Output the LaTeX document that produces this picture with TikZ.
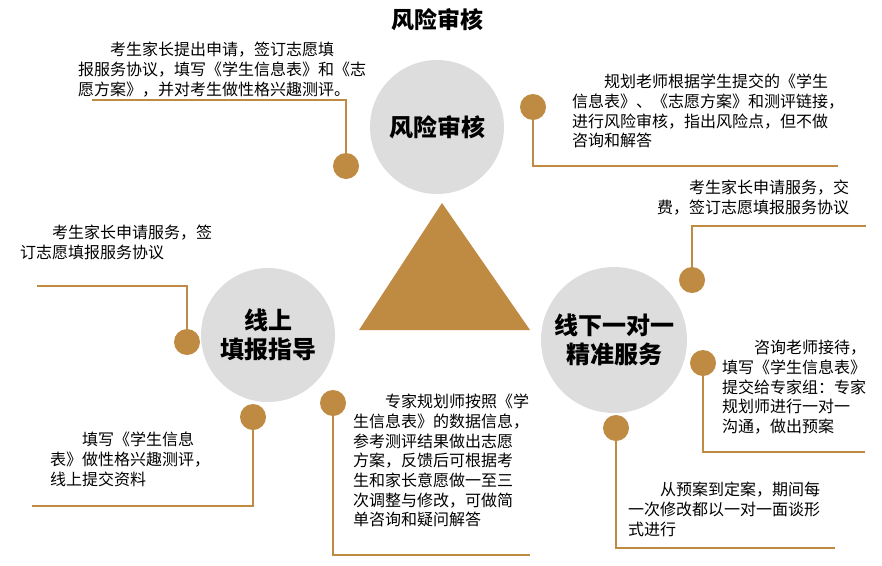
\documentclass[tikz,border=0pt]{standalone}
\usepackage{fontspec}
\setmainfont{Noto Sans CJK SC}
\usetikzlibrary{positioning}
\definecolor{gold}{HTML}{BF8A42}
\definecolor{disc}{HTML}{DDDDDD}
\tikzset{
  stage/.style={circle, fill=disc, minimum size=134pt, inner sep=0pt, align=center,
                font=\fontsize{24}{29}\selectfont\bfseries},
  dot/.style={circle, fill=gold, minimum size=26pt, inner sep=0pt},
  lnk/.style={draw=gold, line width=1.8pt},
  note/.style={anchor=north west, align=left, inner sep=0pt,
               font=\fontsize{16}{19.7}\selectfont},
}

\begin{document}
\begin{tikzpicture}[x=1pt, y=-1pt]
  \useasboundingbox (0,0) rectangle (882,565);
  \node[font=\fontsize{23}{27}\selectfont\bfseries] (title) at (437,20) {风险审核};
  % three stages and the centre triangle
  \node[stage] (risk) at (437,127) {风险审核};
  \node[stage] (online) at (268,335) {线上\\填报指导};
  \node[stage, minimum size=146pt] (offline) at (614,340) {线下一对一\\精准服务};
  \path[fill=gold] (442,203) coordinate (tri) -- (359,330) -- (530,330) -- cycle;
  % dots
  \node[dot] (da) at (346,166) {};
  \node[dot] (db) at (533,107) {};
  \node[dot] (dc) at (692,280) {};
  \node[dot] (dd) at (187,342) {};
  \node[dot] (de) at (253,417) {};
  \node[dot] (df) at (333,403) {};
  \node[dot] (dg) at (703,363) {};
  \node[dot] (dh) at (616,428) {};
  % line ends
  \coordinate (ea) at (92,100);
  \coordinate (eb) at (838,166);
  \coordinate (ec) at (866,226);
  \coordinate (ed) at (37,286);
  \coordinate (ee) at (32,506);
  \coordinate (ef) at (530,555);
  \coordinate (eg) at (865,452);
  \coordinate (eh) at (835,548);
  \draw[lnk] (da) |- (ea);
  \draw[lnk] (db) |- (eb);
  \draw[lnk] (dc) |- (ec);
  \draw[lnk] (dd) |- (ed);
  \draw[lnk] (de) |- (ee);
  \draw[lnk] (df) |- (ef);
  \draw[lnk] (dg) |- (eg);
  \draw[lnk] (dh) |- (eh);
  % notes
  \node[note] (ta) at (78,42) {\hspace*{2em}考生家长提出申请，签订志愿填\\报服务协议，填写《学生信息表》和《志\\愿方案》，并对考生做性格兴趣测评。};
  \node[note] (tb) at (572,74) {\hspace*{2em}规划老师根据学生提交的《学生\\信息表》、《志愿方案》和测评链接，\\进行风险审核，指出风险点，但不做\\咨询和解答};
  \node[note] (tc) at (657,180) {\hspace*{2em}考生家长申请服务，交\\费，签订志愿填报服务协议};
  \node[note] (td) at (20,225) {\hspace*{2em}考生家长申请服务，签\\订志愿填报服务协议};
  \node[note] (te) at (50,432) {\hspace*{2em}填写《学生信息\\表》做性格兴趣测评，\\线上提交资料};
  \node[note] (tf) at (353,394) {\hspace*{2em}专家规划师按照《学\\生信息表》的数据信息，\\参考测评结果做出志愿\\方案，反馈后可根据考\\生和家长意愿做一至三\\次调整与修改，可做简\\单咨询和疑问解答};
  \node[note] (tg) at (722,340) {\hspace*{2em}咨询老师接待，\\填写《学生信息表》\\提交给专家组：专家\\规划师进行一对一\\沟通，做出预案};
  \node[note] (th) at (628,482) {\hspace*{2em}从预案到定案，期间每\\一次修改都以一对一面谈形\\式进行};
\end{tikzpicture}
\end{document}
